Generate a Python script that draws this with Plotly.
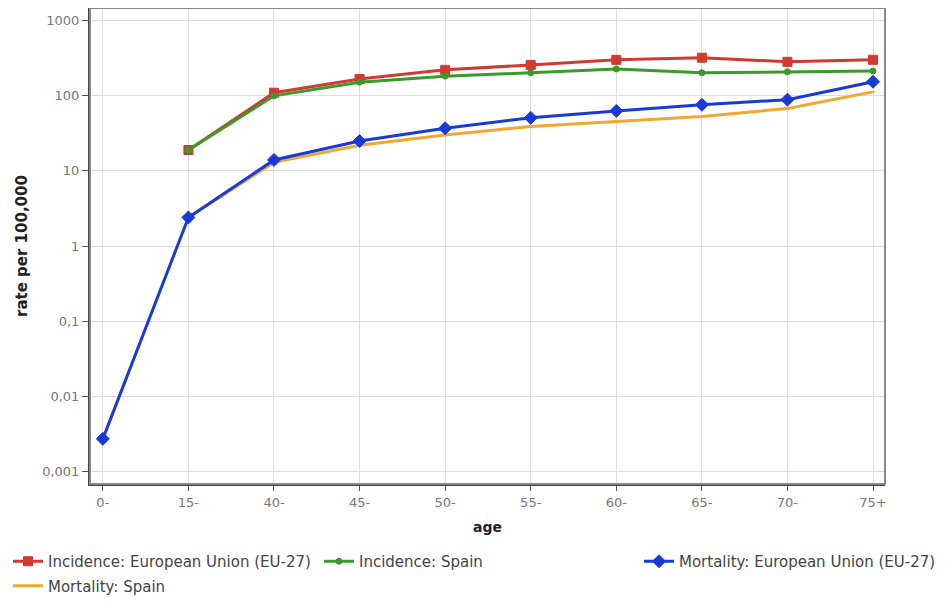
import plotly.graph_objects as go

ages = ["0-", "15-", "40-", "45-", "50-", "55-", "60-", "65-", "70-", "75+"]
inc_eu = [None, 19, 110, 168, 222, 258, 302, 322, 284, 302]
inc_es = [None, 19, 100, 152, 183, 203, 228, 203, 209, 214]
mort_eu = [0.0027, 2.4, 14, 25, 37, 51, 63, 76, 89, 154]
mort_es = [None, 2.4, 13, 22, 30, 39, 45, 53, 68, 113]

y_ticks = [0.001, 0.01, 0.1, 1, 10, 100, 1000]
y_labels = ["0,001", "0,01", "0,1", "1", "10", "100", "1000"]
x_title = "age"
y_title = "rate per 100,000"

font = "DejaVu Sans"
W, H = 936, 587
fig = go.Figure()
# (name, values, colour, symbol, size, legend, group)
series = [
    ("Incidence: European Union (EU-27)", inc_eu, "#d03a30", "square", 9, "legend", "a"),
    ("Incidence: Spain", inc_es, "#3a9a2a", "circle", 6, "legend2", "c"),
    ("Mortality: Spain", mort_es, "#f0a830", "line-ew", 4, "legend", "b"),
    ("Mortality: European Union (EU-27)", mort_eu, "#1a3ad8", "diamond", 10, "legend3", "d"),
]
for name, vals, col, sym, sz, leg, grp in series:
    fig.add_trace(go.Scatter(
        x=list(range(len(ages))), y=vals, name=name, mode="lines+markers",
        line=dict(color=col, width=3),
        marker=dict(color=col, symbol=sym, size=sz, line=dict(color=col, width=1)),
        connectgaps=False, legend=leg, legendgroup=grp,
    ))

leg_font = dict(family=font, size=15, color="#444444")
common_leg = dict(orientation="v", xref="container", yref="container",
                  xanchor="left", yanchor="top", font=leg_font,
                  itemwidth=30, bgcolor="rgba(0,0,0,0)", tracegroupgap=2)
fig.update_layout(
    width=W, height=H,
    margin=dict(l=82, r=59, t=0, b=111, autoexpand=False),
    plot_bgcolor="white", paper_bgcolor="white",
    font=dict(family=font, size=14, color="#555555"),
    showlegend=True,
    legend=dict(x=0.0, y=1 - 537 / H, **common_leg),
    legend2=dict(x=311 / W, y=1 - 537 / H, **common_leg),
    legend3=dict(x=631 / W, y=1 - 537 / H, **common_leg),
)
fig.update_xaxes(
    range=[-0.15, 9.14],
    tickvals=list(range(len(ages))), ticktext=ages, tickangle=0,
    showgrid=True, gridcolor="#dddddd", gridwidth=1,
    showline=True, linecolor="#444444", linewidth=2, mirror=False,
    ticks="outside", ticklen=5, tickcolor="#555555",
    tickfont=dict(family=font, size=13, color="#777777"),
    zeroline=False,
)
fig.update_yaxes(
    type="log", range=[-3.17, 3.17],
    tickvals=y_ticks, ticktext=y_labels,
    showgrid=True, gridcolor="#dddddd", gridwidth=1,
    showline=True, linecolor="#444444", linewidth=2,
    ticks="outside", ticklen=6, tickcolor="#555555",
    tickfont=dict(family=font, size=13, color="#777777"),
    zeroline=False,
)
fig.add_annotation(text="<b>" + x_title + "</b>", xref="paper", yref="paper",
                   x=(487 - 90) / 795, y=-(519 - 476) / 476, showarrow=False,
                   xanchor="center", yanchor="middle",
                   font=dict(family=font, size=14, color="#222222"))
fig.add_annotation(text="<b>" + y_title + "</b>", xref="paper", yref="paper",
                   x=-(82 - 14) / 795, y=0.5, showarrow=False, textangle=-90,
                   xanchor="center", yanchor="middle",
                   font=dict(family=font, size=15, color="#222222"))
fig.add_shape(type="rect", xref="paper", yref="paper", x0=0, y0=0, x1=1, y1=1,
              line=dict(color="#888888", width=2), layer="above")
fig.write_html("out.html")
